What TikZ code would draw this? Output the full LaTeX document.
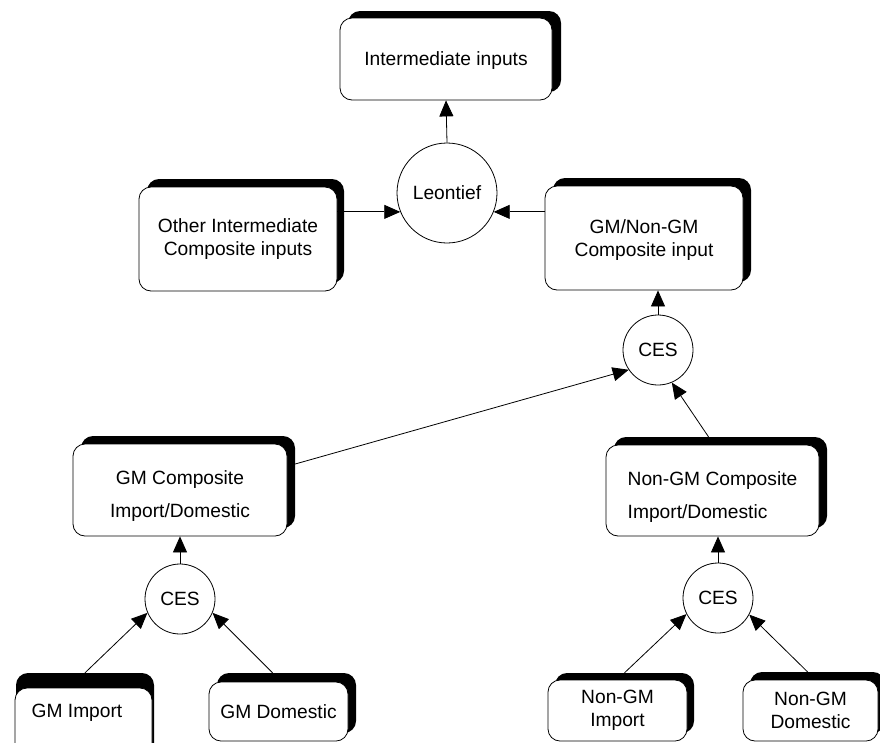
\documentclass[tikz,border=0pt]{standalone}
\usepackage{fontspec}
\setmainfont{Liberation Sans}
\usetikzlibrary{arrows.meta,calc}
\begin{document}
\begin{tikzpicture}[x=1pt,y=-1pt,
  lbl/.style={font=\fontsize{19.2}{23}\selectfont, align=center, inner sep=0pt},
  wbox/.style={draw=black, line width=0.8pt, fill=white, rounded corners=12pt, inner sep=0pt, lbl},
  sbox/.style={fill=black, rounded corners=12pt, inner sep=0pt},
  op/.style={circle, draw=black, line width=0.8pt, fill=white, inner sep=0pt, minimum size=70pt, lbl},
  arr/.style={line width=0.8pt, -{Triangle[length=16pt,width=14pt]}}
]
\clip (0,0) rectangle (880,742);
\fill[white] (0,0) rectangle (880,742);

% shadows
\node[sbox, minimum width=213pt, minimum height=81pt] (interS) at (454.5,51.5) {};
\node[sbox, minimum width=197pt, minimum height=104pt] (otherS) at (245.5,231) {};
\node[sbox, minimum width=198pt, minimum height=104pt] (gmngS) at (652,230) {};
\node[sbox, minimum width=214pt, minimum height=92pt] (gmcompS) at (188,482) {};
\node[sbox, minimum width=213pt, minimum height=91pt] (ngcompS) at (720.5,482.5) {};
\node[sbox, minimum width=138pt, minimum height=90pt] (gmimpS) at (85,718) {};
\node[sbox, minimum width=139pt, minimum height=60pt] (gmdomS) at (286.5,703) {};
\node[sbox, minimum width=139pt, minimum height=60pt] (ngimpS) at (624.5,703) {};
\node[sbox, minimum width=135pt, minimum height=61pt] (ngdomS) at (817.5,702.5) {};

% boxes
\node[wbox, minimum width=212pt, minimum height=82pt] (inter) at (446,59) {\rule{0pt}{17pt}Intermediate inputs};
\node[wbox, minimum width=198pt, minimum height=104pt] (other) at (238,239) {Other Intermediate\\Composite inputs};
\node[wbox, minimum width=198pt, minimum height=104pt] (gmng) at (644,238) {\rule{0pt}{18pt}GM/Non-GM\\Composite input};
\node[wbox, minimum width=214pt, minimum height=92pt] (gmcomp) at (180,490) {\rule{0pt}{26pt}GM Composite\\[10pt]Import/Domestic};
\node[wbox, minimum width=213pt, minimum height=91pt, align=left] (ngcomp) at (712.5,490.5) {\rule{0pt}{26pt}Non-GM Composite\\[10pt]Import/Domestic};
\node[wbox, minimum width=137pt, minimum height=82pt] (gmimp) at (83.5,729) {};
\node[lbl] (gmimpT) at (77,713) {GM Import};
\node[wbox, minimum width=139pt, minimum height=59pt] (gmdom) at (278.5,711.5) {GM Domestic};
\node[wbox, minimum width=139pt, minimum height=61pt] (ngimp) at (617.5,710.5) {Non-GM\\Import};
\node[wbox, minimum width=135pt, minimum height=61pt] (ngdom) at (810.5,710.5) {Non-GM\\Domestic};

% operators
\node[op, minimum size=100pt] (leon) at (447,193) {Leontief};
\node[op] (cesM) at (658,350) {CES};
\node[op] (cesL) at (180,599) {CES};
\node[op] (cesR) at (718,598) {CES};

% connectors
\draw[arr] (leon.north) -- (inter.south);
\draw[arr] (other.east |- leon.202) -- (leon.202);
\draw[arr] (gmng.west |- leon.338) -- (leon.338);
\draw[arr] (cesM.north) -- (cesM.north |- gmng.south);
\draw[arr] ([yshift=18pt]gmcompS.east) -- (cesM.214);
\draw[arr] ([xshift=-12pt]ngcompS.north) -- (cesM.293);
\draw[arr] (cesL.north) -- (gmcomp.south);
\draw[arr] (cesR.north) -- (cesR.north |- ngcomp.south);
\draw[arr] (gmimpS.north) -- (cesL.203);
\draw[arr] ([xshift=-14pt]gmdomS.north) -- (cesL.337);
\draw[arr] (ngimpS.north) -- (cesR.207);
\draw[arr] ([xshift=-10pt]ngdomS.north) -- (cesR.332);
\end{tikzpicture}
\end{document}
